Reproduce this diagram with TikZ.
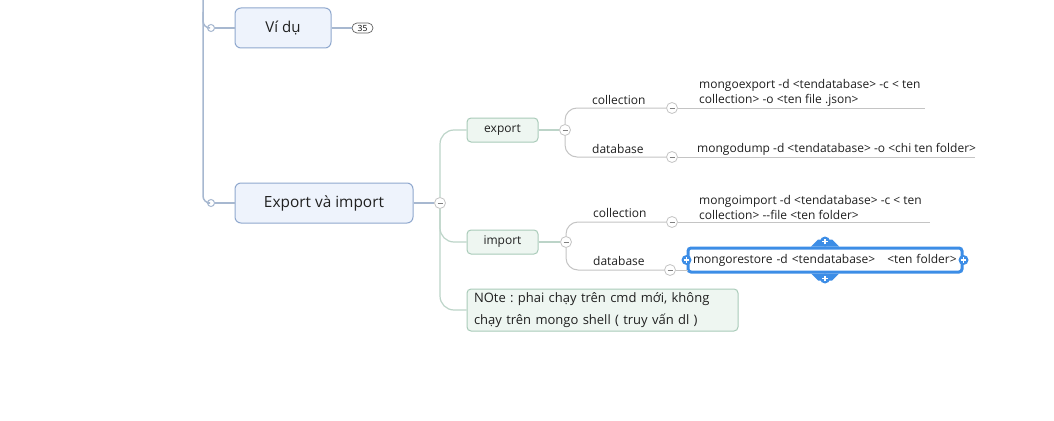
\documentclass[tikz,border=0pt]{standalone}
\usepackage{fontspec}
\setmainfont{Open Sans}
\usepackage{xcolor}
\usepackage{tikz}
\usetikzlibrary{positioning}
\frenchspacing
\definecolor{spineblue}{HTML}{A7B8D0}
\definecolor{topicblue}{HTML}{EEF3FC}
\definecolor{topicblueb}{HTML}{8FA8CE}
\definecolor{topicgreen}{HTML}{EEF6F1}
\definecolor{topicgreenb}{HTML}{A9CBB9}
\definecolor{branchgreen}{HTML}{BCD4C8}
\definecolor{branchgray}{HTML}{C4C4C4}
\definecolor{selblue}{HTML}{3C8DE6}
\definecolor{inkgray}{HTML}{202020}
\tikzset{
    topicb/.style = {rectangle, rounded corners=6pt, draw=topicblueb, fill=topicblue, line width=1pt, text=inkgray, inner sep=0pt},
    topicg/.style = {rectangle, rounded corners=4pt, draw=topicgreenb, fill=topicgreen, line width=1pt, text=inkgray, inner sep=0pt},
    knob/.style = {circle, draw=spineblue, fill=white, inner sep=0pt, minimum size=7pt, line width=1pt},
    fold/.style = {circle, draw=branchgray, fill=white, inner sep=0pt, minimum size=11pt, line width=0.8pt,
        path picture={\draw[gray,line width=0.8pt] ([xshift=-2.5pt]path picture bounding box.center) -- ([xshift=2.5pt]path picture bounding box.center);}},
    grip/.style = {circle, fill=selblue, inner sep=0pt, minimum size=10pt,
        path picture={\draw[white,line width=1.3pt] ([xshift=-2.8pt]path picture bounding box.center) -- ([xshift=2.8pt]path picture bounding box.center)
            ([yshift=-2.8pt]path picture bounding box.center) -- ([yshift=2.8pt]path picture bounding box.center);}},
    leaf/.style = {align=left, inner sep=0pt, text=inkgray, font=\fontsize{12}{15.5}\selectfont},
}
\begin{document}
\begin{tikzpicture}[
	x=1pt, y=-1pt,
	font=\fontsize{12}{15.5}\selectfont
]
\useasboundingbox[fill=white] (0,0) rectangle (1054,420);
\tikzset{
    spine/.style = {spineblue, line width=1.5pt, rounded corners=7pt},
    edgeg/.style = {branchgreen, line width=1.2pt, rounded corners=14pt},
    edgeq/.style = {branchgray, line width=1pt, rounded corners=12pt},
    selbox/.style = {rectangle, rounded corners=3pt, draw=selblue, line width=3pt, fill=white, inner xsep=5pt, inner ysep=0pt, text=inkgray}
}
\node[topicb, minimum width=96pt, minimum height=40pt, font=\fontsize{15}{18}\selectfont] at (283,28) (vidu) {Ví dụ};
\node[topicb, minimum width=178pt, minimum height=40pt, font=\fontsize{15.4}{18}\selectfont] at (324,203) (exim) {Export và import};
\node[knob] at (211,28) (k1) {};
\node[knob] at (211,203) (k2) {};
\node[rectangle, rounded corners=5pt, draw=inkgray!70, fill=white, line width=0.7pt, inner sep=0pt, minimum width=21pt, minimum height=10pt, font=\fontsize{8.5}{9}\selectfont] at (362.5,28) (badge) {35};
%
\node[fold] at (440,203) (m0) {};
\node[topicg, minimum width=71pt, minimum height=24pt, font=\fontsize{12}{14}\selectfont] at (502.5,130) (export) {export};
\node[topicg, minimum width=71pt, minimum height=24pt, font=\fontsize{12}{14}\selectfont] at (502.5,242) (import) {import};
\node[topicg, text width=257pt, inner xsep=7pt, minimum height=42pt, align=left, font=\fontsize{13}{22}\selectfont] at (602.5,310) (note) {NOte : phai chạy trên cmd mới, không\\chạy trên mongo shell ( truy vấn dl )};
%
\node[fold] at (565,130) (m1) {};
\node[fold] at (566,242) (m2) {};
\node[fold] at (672,108) (f1) {};
\node[fold] at (672,157) (f2) {};
\node[fold] at (672,222) (f3) {};
\node[fold] at (670,270) (f4) {};
%
\node[leaf, anchor=west] at (592,100) (lc1) {collection};
\node[leaf, anchor=west] at (592,149) (ld1) {database};
\node[leaf, anchor=west] at (593,213) (lc2) {collection};
\node[leaf, anchor=west] at (593,261) (ld2) {database};
%
\node[leaf, anchor=south west] at (699,107) (t1) {mongoexport -d <tendatabase> -c < ten\\collection> -o <ten file .json>};
\node[leaf, anchor=west] at (697,149) (t2) {mongodump -d <tendatabase> -o <chi ten folder>};
\node[leaf, anchor=south west] at (699,220) (t3) {mongoimport -d <tendatabase> -c < ten\\collection> -{}-file <ten folder>};
\node[selbox, minimum width=274pt, minimum height=24pt, text width=264pt, align=left] at (825,260) (t4) {mongorestore -d <tendatabase> \ \ <ten folder>};
\coordinate (e1) at (925,108);
\coordinate (e2) at (975,157);
\coordinate (e3) at (930,222);
\coordinate (e4) at (688,270);
%
\draw[spine] (203,0) |- (k2);
\draw[spine] (203,12) |- (k1);
\draw[spineblue, line width=1.5pt] (k1) -- (vidu);
\draw[spineblue, line width=1.5pt] (vidu) -- (badge);
\draw[spineblue, line width=1.5pt] (k2) -- (exim);
\draw[spineblue, line width=1.5pt] (exim) -- (m0);
%
\draw[edgeg] (m0.north) |- (export.west);
\draw[edgeg] (m0.south) |- (import.west);
\draw[edgeg] (m0.south) |- (note.west);
\draw[branchgreen, line width=1.2pt] (export) -- (m1);
\draw[branchgreen, line width=1.2pt] (import) -- (m2);
%
\draw[edgeq] (m1.north) |- (f1.west);
\draw[edgeq] (m1.south) |- (f2.west);
\draw[edgeq] (m2.north) |- (f3.west);
\draw[edgeq] (m2.south) |- (f4.west);
\draw[branchgray, line width=1pt] (f1) -- (e1);
\draw[branchgray, line width=1pt] (f2) -- (e2);
\draw[branchgray, line width=1pt] (f3) -- (e3);
\draw[branchgray, line width=1pt] (f4) -- (e4);
%
\fill[selblue] ([xshift=-14pt]t4.north) -- ([xshift=-7pt,yshift=7pt]t4.north) -- ([xshift=7pt,yshift=7pt]t4.north) -- ([xshift=14pt]t4.north) -- cycle;
\fill[selblue] ([xshift=-14pt]t4.south) -- ([xshift=-7pt,yshift=-7pt]t4.south) -- ([xshift=7pt,yshift=-7pt]t4.south) -- ([xshift=14pt]t4.south) -- cycle;
\node[grip] at (t4.west) (g1) {};
\node[grip] at (t4.east) (g2) {};
\node[grip] at ([yshift=5pt]t4.north) (g3) {};
\node[grip] at ([yshift=-5pt]t4.south) (g4) {};
\end{tikzpicture}
\end{document}
